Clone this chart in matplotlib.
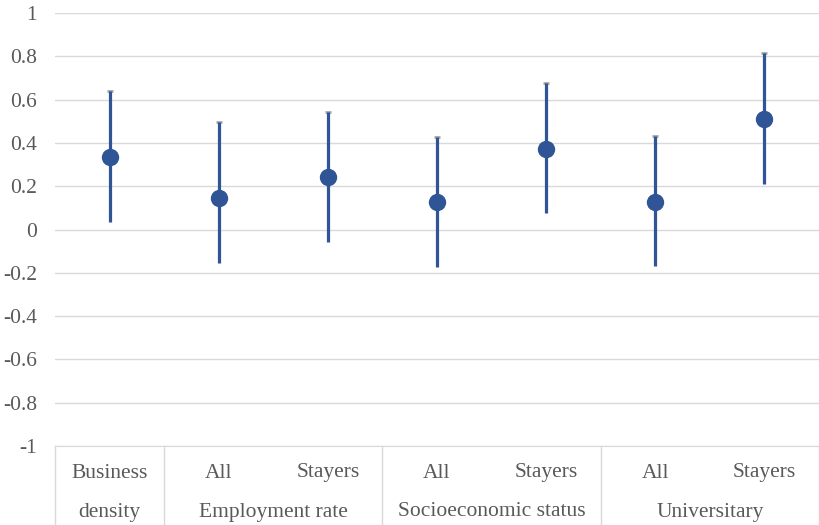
import numpy as np
import matplotlib
matplotlib.use("Agg")
import matplotlib.pyplot as plt
from matplotlib.ticker import FuncFormatter

plt.rcParams["font.family"] = ["Liberation Serif", "DejaVu Serif"]

# estimates with 95% interval bounds
sub_labels = ["Business", "All", "Stayers", "All", "Stayers", "All", "Stayers"]
group_labels = ["density", "Employment rate", "Socioeconomic status", "Universitary"]
group_sizes = [1, 2, 2, 2]
estimate = [0.335, 0.145, 0.242, 0.127, 0.372, 0.127, 0.510]
lower = [0.035, -0.155, -0.058, -0.173, 0.076, -0.169, 0.210]
upper = [0.640, 0.497, 0.543, 0.427, 0.677, 0.432, 0.815]

BLUE = "#2F5597"
GRID = "#D9D9D9"
TEXT = "#595959"
FS = 15.5

fig = plt.figure(figsize=(8.2, 5.25), dpi=100)
ax = fig.add_axes([55 / 820, 79 / 525, 764 / 820, 433 / 525])

x = np.arange(len(estimate))
ax.vlines(x, lower, upper, color=BLUE, linewidth=2.3, zorder=3)
ax.plot(x, upper, linestyle="none", marker="_", markersize=4,
        markeredgewidth=2, color="#A6A6A6", zorder=2)
ax.plot(x, estimate, linestyle="none", marker="o", markersize=11.5,
        color=BLUE, zorder=4)

ax.set_xlim(-0.5, len(estimate) - 0.5)
ax.set_ylim(-1, 1)
ax.set_yticks(np.arange(-1, 1.01, 0.2))
ax.yaxis.set_major_formatter(FuncFormatter(lambda v, _: f"{round(v, 1) + 0.0:g}"))
ax.yaxis.grid(True, color=GRID, linewidth=1)
ax.set_axisbelow(True)
ax.set_xticks([])
ax.tick_params(axis="y", length=0, pad=13, labelsize=FS, labelcolor=TEXT)
for s in ["top", "right", "left"]:
    ax.spines[s].set_visible(False)
ax.spines["bottom"].set_color(GRID)

# two-level category axis below the plot
row1 = -1 - 27 / 216.5
row2 = -1 - 66 / 216.5
bottom = -1 - 79 / 216.5
for xi, lab in zip(x, sub_labels):
    ax.text(xi, row1, lab, ha="center", va="center", fontsize=FS, color=TEXT)

start = 0
edges = [-0.5]
for lab, n in zip(group_labels, group_sizes):
    ax.text(start + (n - 1) / 2, row2, lab, ha="center", va="center",
            fontsize=FS, color=TEXT)
    start += n
    edges.append(start - 0.5)
for e in edges:
    ax.plot([e, e], [-1, bottom], color=GRID, linewidth=1, clip_on=False)

fig.savefig("out.png", dpi=100)
